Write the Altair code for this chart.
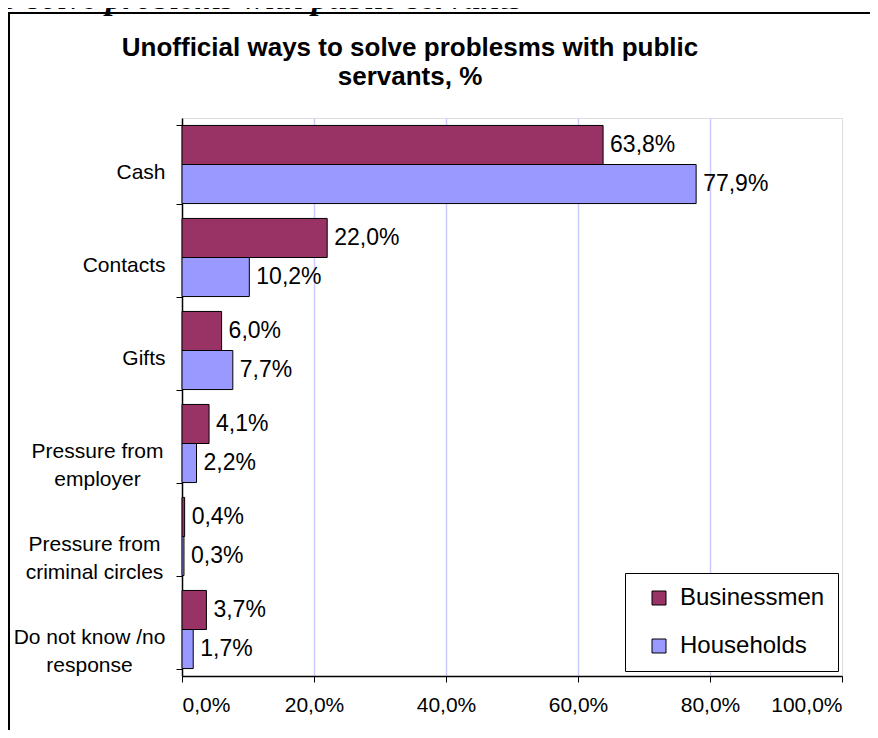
import altair as alt
import pandas as pd

categories = ["Cash", "Contacts", "Gifts", "Pressure from employer",
              "Pressure from criminal circles", "Do not know /no response"]
series = ["Businessmen", "Households"]
businessmen = [63.8, 22.0, 6.0, 4.1, 0.4, 3.7]
households = [77.9, 10.2, 7.7, 2.2, 0.3, 1.7]
x_ticks = [0, 20, 40, 60, 80, 100]
colors = ["#993366", "#9999FF"]
title_lines = ["Unofficial ways to solve problesms with public", "servants, %"]
top_text = "o solve problems with public servants"

wrapped = {
    "Pressure from employer": ["Pressure from", "employer"],
    "Pressure from criminal circles": ["Pressure from", "criminal circles"],
    "Do not know /no response": ["Do not know /no", "response"],
}
# label padding for centred two-line labels
wrapped_pad = {
    "Pressure from employer": 79,
    "Pressure from criminal circles": 82,
    "Do not know /no response": 87,
}

rows = []
for i, c in enumerate(categories):
    rows.append({"category": c, "series": series[0], "value": businessmen[i]})
    rows.append({"category": c, "series": series[1], "value": households[i]})
df = pd.DataFrame(rows)

label_expr = "datum.label"
for k, v in wrapped.items():
    arr = "[" + ",".join("'" + s + "'" for s in v) + "]"
    label_expr = f"datum.label == '{k}' ? {arr} : ({label_expr})"

multi_test = " || ".join(f"datum.value == '{k}'" for k in wrapped)
pad_conds = [{"test": f"datum.value == '{k}'", "value": p} for k, p in wrapped_pad.items()]

FONT = "Liberation Sans"

base = alt.Chart(df).transform_calculate(
    label="replace(format(datum.value, '.1f'), '.', ',') + '%'"
)

y_enc = alt.Y("category:N", sort=categories,
              scale=alt.Scale(paddingInner=0.16, paddingOuter=0.08),
              axis=alt.Axis(title=None, tickBand="extent", domainColor="black",
                            domainWidth=1.5, tickColor="black", tickSize=6,
                            labelFont=FONT, labelFontSize=21, labelColor="black",
                            labelPadding={"condition": pad_conds, "value": 11},
                            labelAlign={"condition": {"test": multi_test, "value": "center"}, "value": "right"},
                            labelLineHeight=28, labelOffset=8,
                            labelExpr=label_expr, labelLimit=300))
yoff = alt.YOffset("series:N", sort=series,
                   scale=alt.Scale(paddingInner=0, paddingOuter=0))
x_enc = alt.X("value:Q", scale=alt.Scale(domain=[0, 100], nice=False),
              axis=alt.Axis(title=None, values=x_ticks, grid=True,
                            gridColor="#CCCCFF", gridWidth=1.5,
                            gridOpacity={"condition": {"test": "datum.value == 0 || datum.value == 100", "value": 0}, "value": 1},
                            domainColor="black", domainWidth=1.5,
                            tickColor="black", tickSize=6,
                            labelFont=FONT, labelFontSize=21, labelColor="black",
                            labelPadding=12,
                            labelExpr="replace(format(datum.value, '.1f'), '.', ',') + '%'"))

bars = base.mark_bar(stroke="black", strokeWidth=1).encode(
    x=x_enc, y=y_enc, yOffset=yoff,
    color=alt.Color("series:N", sort=series,
                    scale=alt.Scale(domain=series, range=colors),
                    legend=alt.Legend(title=None, orient="none", legendX=443, legendY=455,
                                      strokeColor="black", fillColor="white",
                                      padding=13, labelFont=FONT, labelFontSize=24,
                                      labelColor="black", symbolType="square",
                                      symbolSize=196, symbolStrokeColor="black",
                                      symbolStrokeWidth=1, rowPadding=24,
                                      symbolOffset=9, labelOffset=9)),
)

labels = base.mark_text(align="left", baseline="middle", dx=7, font=FONT,
                        fontSize=23, color="black").encode(
    x="value:Q", y=alt.Y("category:N", sort=categories), yOffset=yoff,
    text="label:N",
)

one = pd.DataFrame({"a": [0]})
frame = alt.Chart(one).mark_rect(fill=None, stroke="black", strokeWidth=2).encode(
    x=alt.value(-173), x2=alt.value(800), y=alt.value(-105), y2=alt.value(700)
)
toptext = alt.Chart(one).mark_text(
    text=top_text, align="left",
    baseline="alphabetic", font="Liberation Serif", fontSize=34,
    fontWeight="bold", fontStyle="italic", color="black"
).encode(x=alt.value(-180), y=alt.value(-109))
title = alt.Chart(one).mark_text(
    text=title_lines, align="center", baseline="middle", font=FONT,
    fontSize=26, fontWeight="bold", color="black", lineHeight=29
).encode(x=alt.value(228), y=alt.value(-70))

chart = alt.layer(frame, toptext, title, bars, labels).properties(
    width=660, height=558,
    padding={"left": 174, "top": 110, "right": 28, "bottom": 54},
    autosize=alt.AutoSizeParams(type="none"),
).configure_view(stroke="#868686", strokeWidth=2).configure(background="white")

chart.save("out.html", embed_options={"renderer": "svg", "actions": False})
